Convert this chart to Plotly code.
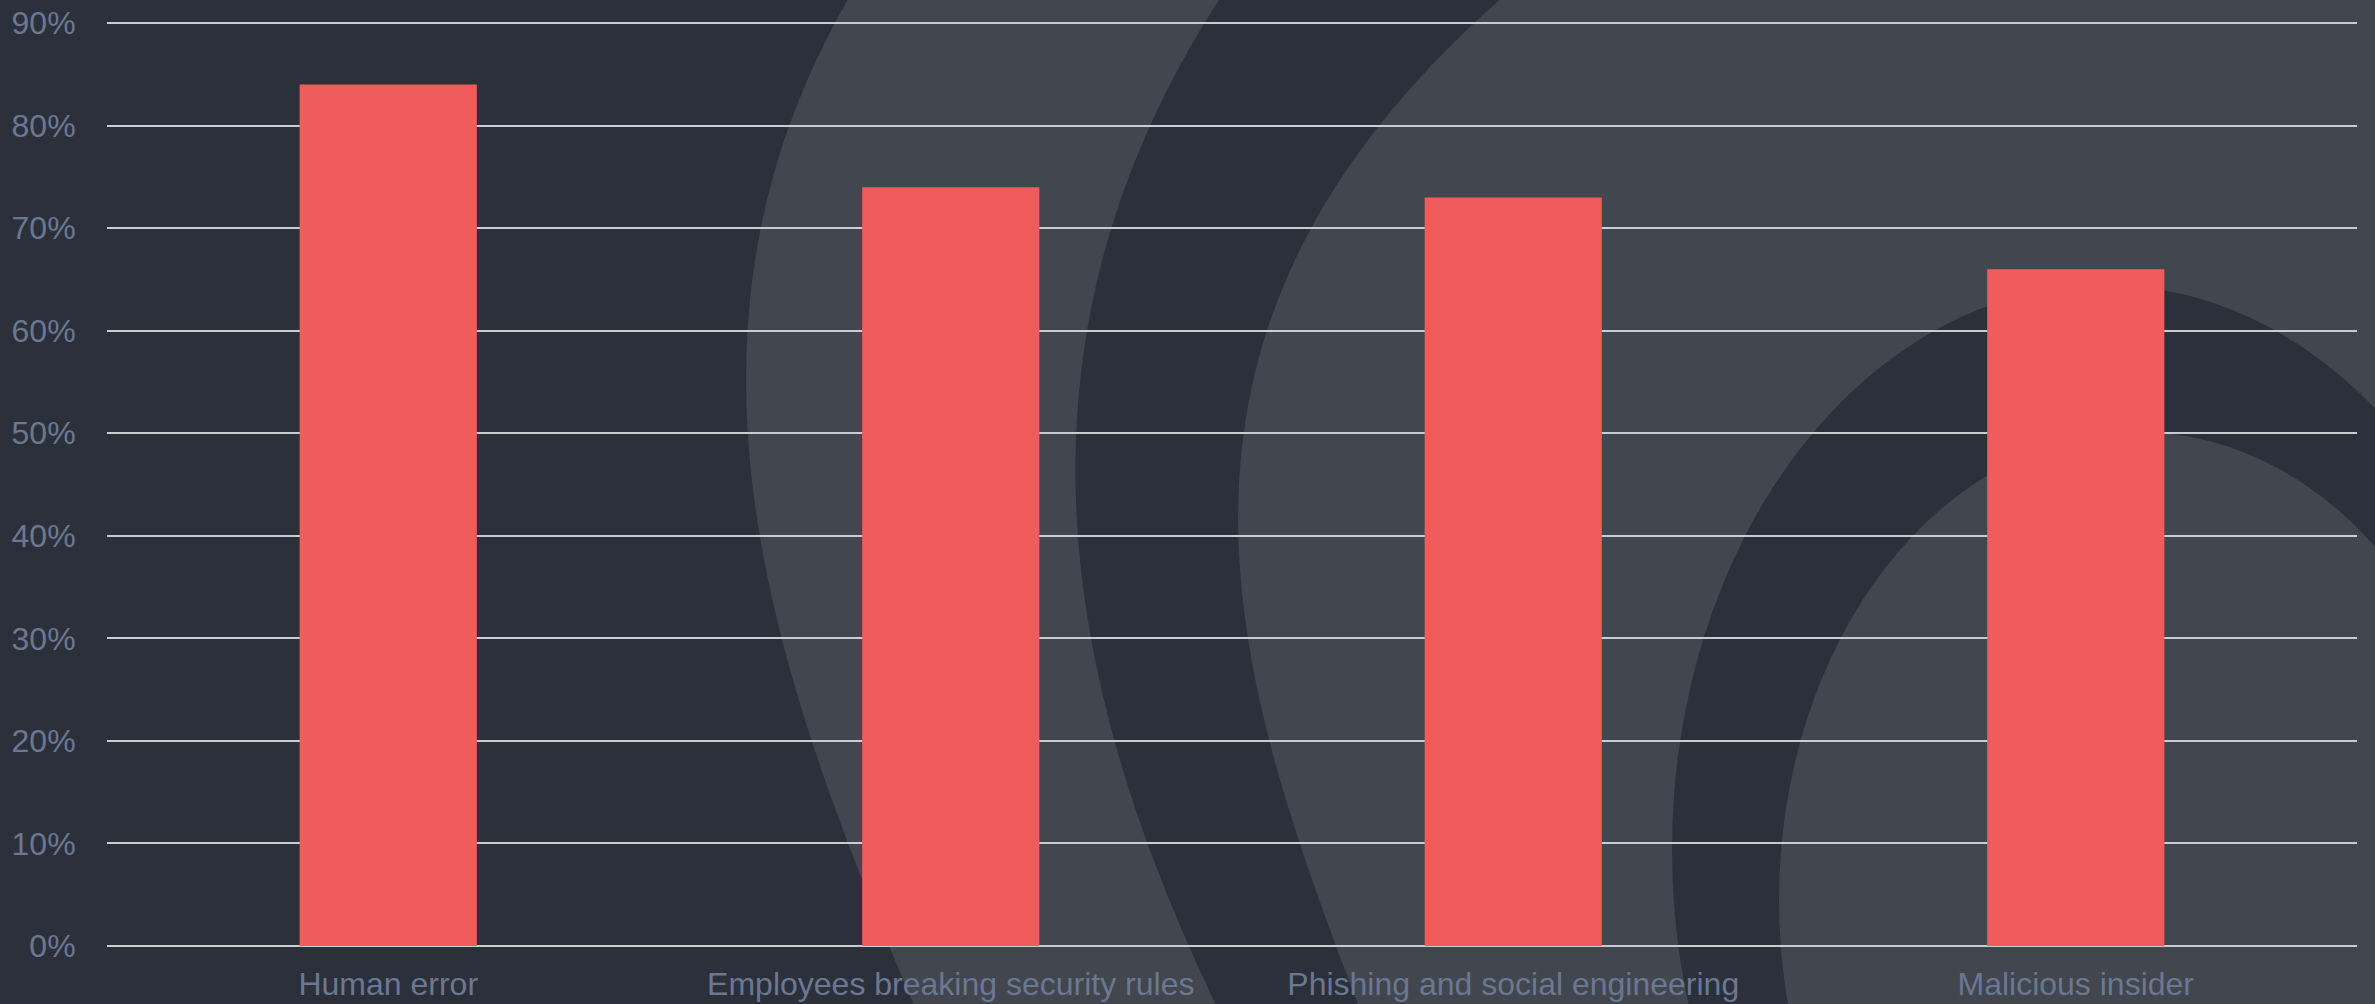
import numpy as np
import plotly.graph_objects as go

# ---- data ----
categories = ["Human error", "Employees breaking security rules",
              "Phishing and social engineering", "Malicious insider"]
values = [84, 74, 73, 66]
y_tickvals = [0, 10, 20, 30, 40, 50, 60, 70, 80, 90]
y_ticktext = [f"{v}%" for v in y_tickvals]

# ---- layout constants ----
W, H = 2375, 1004
ML, MR, MT, MB = 107, 18, 20, 58
PW, PH = W - ML - MR, H - MT - MB
YMAX = 90.3

DARK = "#2c303b"
LIGHT = "#42464f"
BAR = "#f05b5b"
GRID = "#c9ccd3"
TICK = "#6b7891"


def fx(X):
    return (X - ML) / PW


def fy(Y):
    return (H - MB - Y) / PH


def edge_region(pts, color, deg=3):
    ys = np.array([p[1] for p in pts], dtype=float)
    xs = np.array([p[0] for p in pts], dtype=float)
    coef = np.polyfit(ys, xs, deg)
    yy = np.linspace(-30, H + 30, 100)
    xx = np.polyval(coef, yy)
    seg = " L ".join(f"{fx(x):.5f},{fy(y):.5f}" for x, y in zip(xx, yy))
    path = (f"M {seg} L {fx(W + 200):.5f},{fy(H + 30):.5f} "
            f"L {fx(W + 200):.5f},{fy(-30):.5f} Z")
    return dict(type="path", path=path, xref="paper", yref="paper",
                fillcolor=color, line=dict(width=0), layer="below")


def ellipse(cx, cy, a, b, color):
    return dict(type="circle", xref="paper", yref="paper",
                x0=fx(cx - a), x1=fx(cx + a), y0=fy(cy + b), y1=fy(cy - b),
                fillcolor=color, line=dict(width=0), layer="below")


# decorative background edges (pixel positions)
edge1 = [(845, 5), (765, 205), (747, 385), (765, 565), (813, 745), (864, 885), (910, 995)]
edge2 = [(1216, 5), (1118, 205), (1080, 385), (1081, 565), (1116, 745), (1162, 885), (1212, 995)]
edge3 = [(1495, 5), (1321, 205), (1254, 385), (1242, 565), (1269, 745), (1312, 885), (1356, 995)]

shapes = [
    edge_region(edge1, LIGHT),
    edge_region(edge2, DARK),
    edge_region(edge3, LIGHT),
    ellipse(2105, 850, 433, 565, DARK),
    ellipse(2139, 900, 360, 468, LIGHT),
]

fig = go.Figure()
fig.add_trace(go.Bar(x=categories, y=values, marker=dict(color=BAR, line=dict(width=0)),
                     hoverinfo="skip"))

fig.update_layout(
    width=W, height=H,
    margin=dict(l=ML, r=MR, t=MT, b=MB, pad=0, autoexpand=False),
    paper_bgcolor=DARK,
    plot_bgcolor="rgba(0,0,0,0)",
    bargap=0.685,
    showlegend=False,
    shapes=shapes,
    font=dict(family="Liberation Sans, Arial, sans-serif", color=TICK),
    xaxis=dict(showgrid=False, zeroline=False, showline=False, automargin=False,
               ticks="outside", ticklen=10, tickcolor="rgba(0,0,0,0)",
               tickfont=dict(size=32, color=TICK)),
    yaxis=dict(range=[0, YMAX], tickvals=y_tickvals, ticktext=y_ticktext,
               showgrid=True, gridcolor=GRID, gridwidth=2, automargin=False,
               zeroline=True, zerolinecolor=GRID, zerolinewidth=2,
               showline=False, ticks="outside", ticklen=24,
               tickcolor="rgba(0,0,0,0)",
               tickfont=dict(size=32, color=TICK)),
)

fig.write_html("out.html")
